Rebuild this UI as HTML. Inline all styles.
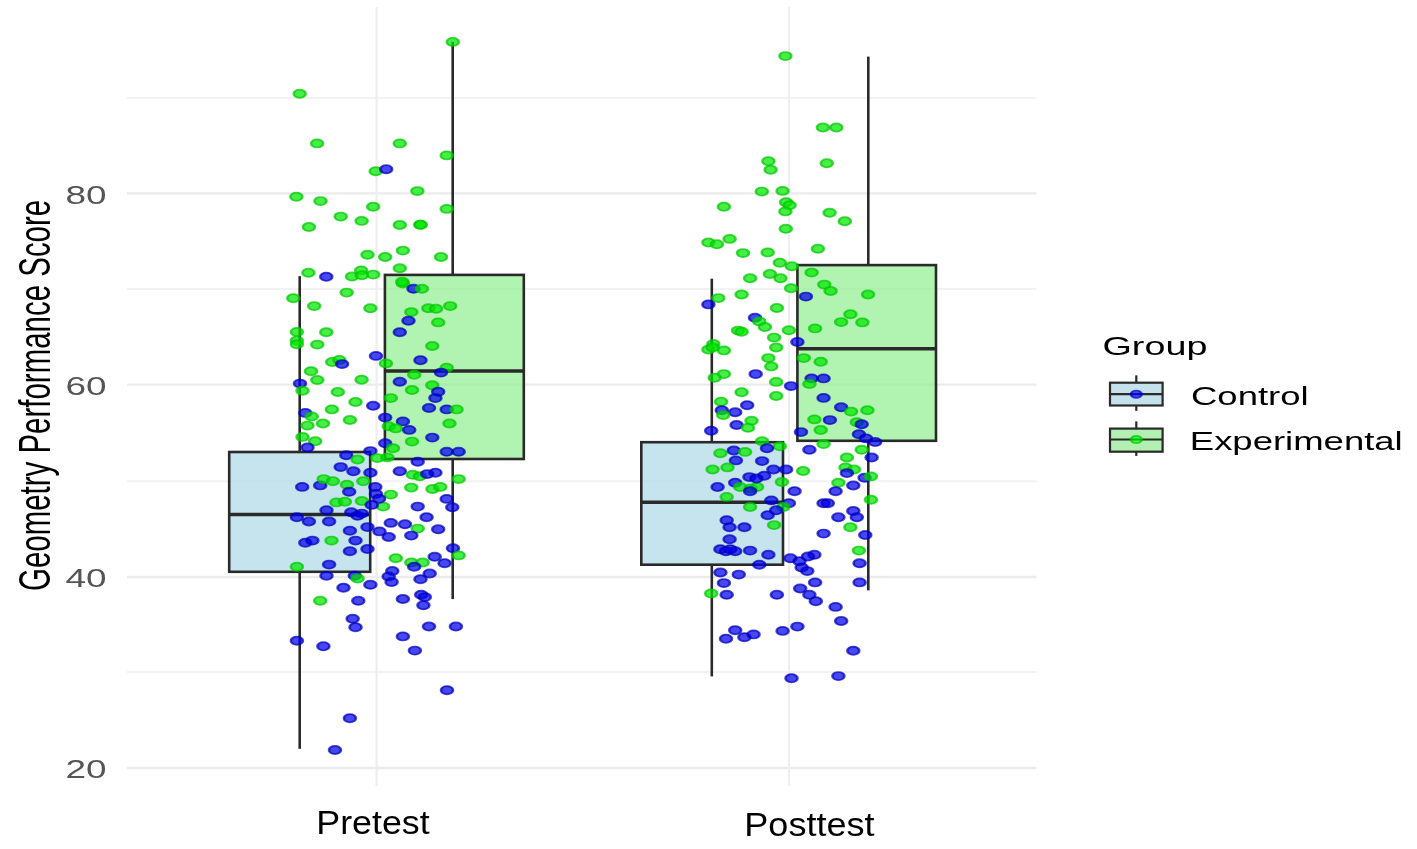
<!DOCTYPE html>
<html><head><meta charset="utf-8"><style>
html,body{margin:0;padding:0;background:#fff;width:1417px;height:849px;overflow:hidden}
svg text{font-family:"Liberation Sans",sans-serif}
</style></head><body>
<svg width="1417" height="849" viewBox="0 0 1417 849" style="display:block;filter:blur(0.55px)"><rect width="100%" height="100%" fill="#fff"/><line x1="127" x2="1036.5" y1="97.9" y2="97.9" stroke="#f2f2f2" stroke-width="2"/><line x1="127" x2="1036.5" y1="288.9" y2="288.9" stroke="#f2f2f2" stroke-width="2"/><line x1="127" x2="1036.5" y1="481.2" y2="481.2" stroke="#f2f2f2" stroke-width="2"/><line x1="127" x2="1036.5" y1="672.0" y2="672.0" stroke="#f2f2f2" stroke-width="2"/><line x1="127" x2="1036.5" y1="193.4" y2="193.4" stroke="#ebebeb" stroke-width="2.4"/><line x1="127" x2="1036.5" y1="384.6" y2="384.6" stroke="#ebebeb" stroke-width="2.4"/><line x1="127" x2="1036.5" y1="577.0" y2="577.0" stroke="#ebebeb" stroke-width="2.4"/><line x1="127" x2="1036.5" y1="768.0" y2="768.0" stroke="#ebebeb" stroke-width="2.4"/><line x1="376.6" x2="376.6" y1="7" y2="786" stroke="#eeeeee" stroke-width="2.2"/><line x1="789.0" x2="789.0" y1="7" y2="786" stroke="#eeeeee" stroke-width="2.2"/><line x1="299.7" x2="299.7" y1="276.1" y2="452.0" stroke="#2a2a2a" stroke-width="2.6"/><line x1="299.7" x2="299.7" y1="571.8" y2="748.8" stroke="#2a2a2a" stroke-width="2.6"/><rect x="229.2" y="452.0" width="141.0" height="119.8" fill="#ADD8E6" fill-opacity="0.7" stroke="#2a2a2a" stroke-width="2.6"/><line x1="229.2" x2="370.2" y1="514.5" y2="514.5" stroke="#2a2a2a" stroke-width="3.6"/><line x1="452.7" x2="452.7" y1="41.8" y2="274.9" stroke="#2a2a2a" stroke-width="2.6"/><line x1="452.7" x2="452.7" y1="459.0" y2="599.1" stroke="#2a2a2a" stroke-width="2.6"/><rect x="384.9" y="274.9" width="138.9" height="184.1" fill="#90EE90" fill-opacity="0.7" stroke="#2a2a2a" stroke-width="2.6"/><line x1="384.9" x2="523.8" y1="371.0" y2="371.0" stroke="#2a2a2a" stroke-width="3.6"/><line x1="711.8" x2="711.8" y1="278.7" y2="442.2" stroke="#2a2a2a" stroke-width="2.6"/><line x1="711.8" x2="711.8" y1="564.7" y2="676.4" stroke="#2a2a2a" stroke-width="2.6"/><rect x="641.3" y="442.2" width="141.7" height="122.5" fill="#ADD8E6" fill-opacity="0.7" stroke="#2a2a2a" stroke-width="2.6"/><line x1="641.3" x2="783.0" y1="502.2" y2="502.2" stroke="#2a2a2a" stroke-width="3.6"/><line x1="868.3" x2="868.3" y1="56.6" y2="265.1" stroke="#2a2a2a" stroke-width="2.6"/><line x1="868.3" x2="868.3" y1="440.8" y2="590.4" stroke="#2a2a2a" stroke-width="2.6"/><rect x="797.4" y="265.1" width="138.6" height="175.7" fill="#90EE90" fill-opacity="0.7" stroke="#2a2a2a" stroke-width="2.6"/><line x1="797.4" x2="936.0" y1="348.8" y2="348.8" stroke="#2a2a2a" stroke-width="3.6"/><g transform="scale(1.47 1)"><circle cx="203.88" cy="93.8" r="4.1" fill="#00e800" fill-opacity="0.72" stroke="#00c800" stroke-opacity="0.72" stroke-width="1.7"/><circle cx="308.03" cy="41.9" r="4.1" fill="#00e800" fill-opacity="0.72" stroke="#00c800" stroke-opacity="0.72" stroke-width="1.7"/><circle cx="215.71" cy="143.4" r="4.1" fill="#00e800" fill-opacity="0.72" stroke="#00c800" stroke-opacity="0.72" stroke-width="1.7"/><circle cx="271.97" cy="143.4" r="4.1" fill="#00e800" fill-opacity="0.72" stroke="#00c800" stroke-opacity="0.72" stroke-width="1.7"/><circle cx="303.88" cy="155.4" r="4.1" fill="#00e800" fill-opacity="0.72" stroke="#00c800" stroke-opacity="0.72" stroke-width="1.7"/><circle cx="255.58" cy="171.3" r="4.1" fill="#00e800" fill-opacity="0.72" stroke="#00c800" stroke-opacity="0.72" stroke-width="1.7"/><circle cx="262.72" cy="169.3" r="4.1" fill="#0000f0" fill-opacity="0.72" stroke="#0000b8" stroke-opacity="0.72" stroke-width="1.7"/><circle cx="283.95" cy="191.1" r="4.1" fill="#00e800" fill-opacity="0.72" stroke="#00c800" stroke-opacity="0.72" stroke-width="1.7"/><circle cx="201.63" cy="196.7" r="4.1" fill="#00e800" fill-opacity="0.72" stroke="#00c800" stroke-opacity="0.72" stroke-width="1.7"/><circle cx="218.03" cy="201.1" r="4.1" fill="#00e800" fill-opacity="0.72" stroke="#00c800" stroke-opacity="0.72" stroke-width="1.7"/><circle cx="253.88" cy="206.7" r="4.1" fill="#00e800" fill-opacity="0.72" stroke="#00c800" stroke-opacity="0.72" stroke-width="1.7"/><circle cx="303.88" cy="208.9" r="4.1" fill="#00e800" fill-opacity="0.72" stroke="#00c800" stroke-opacity="0.72" stroke-width="1.7"/><circle cx="231.77" cy="216.6" r="4.1" fill="#00e800" fill-opacity="0.72" stroke="#00c800" stroke-opacity="0.72" stroke-width="1.7"/><circle cx="245.99" cy="220.9" r="4.1" fill="#00e800" fill-opacity="0.72" stroke="#00c800" stroke-opacity="0.72" stroke-width="1.7"/><circle cx="271.97" cy="225.0" r="4.1" fill="#00e800" fill-opacity="0.72" stroke="#00c800" stroke-opacity="0.72" stroke-width="1.7"/><circle cx="286.05" cy="224.7" r="4.1" fill="#00e800" fill-opacity="0.72" stroke="#00c800" stroke-opacity="0.72" stroke-width="1.7"/><circle cx="286.05" cy="224.7" r="4.1" fill="#00e800" fill-opacity="0.72" stroke="#00c800" stroke-opacity="0.72" stroke-width="1.7"/><circle cx="210.14" cy="227.0" r="4.1" fill="#00e800" fill-opacity="0.72" stroke="#00c800" stroke-opacity="0.72" stroke-width="1.7"/><circle cx="250.00" cy="254.8" r="4.1" fill="#00e800" fill-opacity="0.72" stroke="#00c800" stroke-opacity="0.72" stroke-width="1.7"/><circle cx="262.04" cy="257.0" r="4.1" fill="#00e800" fill-opacity="0.72" stroke="#00c800" stroke-opacity="0.72" stroke-width="1.7"/><circle cx="274.08" cy="250.6" r="4.1" fill="#00e800" fill-opacity="0.72" stroke="#00c800" stroke-opacity="0.72" stroke-width="1.7"/><circle cx="300.00" cy="257.0" r="4.1" fill="#00e800" fill-opacity="0.72" stroke="#00c800" stroke-opacity="0.72" stroke-width="1.7"/><circle cx="209.80" cy="272.8" r="4.1" fill="#00e800" fill-opacity="0.72" stroke="#00c800" stroke-opacity="0.72" stroke-width="1.7"/><circle cx="221.97" cy="276.7" r="4.1" fill="#0000f0" fill-opacity="0.72" stroke="#0000b8" stroke-opacity="0.72" stroke-width="1.7"/><circle cx="239.46" cy="276.5" r="4.1" fill="#00e800" fill-opacity="0.72" stroke="#00c800" stroke-opacity="0.72" stroke-width="1.7"/><circle cx="245.71" cy="270.4" r="4.1" fill="#00e800" fill-opacity="0.72" stroke="#00c800" stroke-opacity="0.72" stroke-width="1.7"/><circle cx="246.19" cy="275.3" r="4.1" fill="#00e800" fill-opacity="0.72" stroke="#00c800" stroke-opacity="0.72" stroke-width="1.7"/><circle cx="253.88" cy="274.6" r="4.1" fill="#00e800" fill-opacity="0.72" stroke="#00c800" stroke-opacity="0.72" stroke-width="1.7"/><circle cx="271.97" cy="268.3" r="4.1" fill="#00e800" fill-opacity="0.72" stroke="#00c800" stroke-opacity="0.72" stroke-width="1.7"/><circle cx="274.08" cy="283.5" r="4.1" fill="#00e800" fill-opacity="0.72" stroke="#00c800" stroke-opacity="0.72" stroke-width="1.7"/><circle cx="273.61" cy="281.7" r="4.1" fill="#00e800" fill-opacity="0.72" stroke="#00c800" stroke-opacity="0.72" stroke-width="1.7"/><circle cx="281.29" cy="288.8" r="4.1" fill="#0000f0" fill-opacity="0.72" stroke="#0000b8" stroke-opacity="0.72" stroke-width="1.7"/><circle cx="287.01" cy="288.8" r="4.1" fill="#00e800" fill-opacity="0.72" stroke="#00c800" stroke-opacity="0.72" stroke-width="1.7"/><circle cx="235.85" cy="292.6" r="4.1" fill="#00e800" fill-opacity="0.72" stroke="#00c800" stroke-opacity="0.72" stroke-width="1.7"/><circle cx="199.52" cy="298.2" r="4.1" fill="#00e800" fill-opacity="0.72" stroke="#00c800" stroke-opacity="0.72" stroke-width="1.7"/><circle cx="213.74" cy="306.1" r="4.1" fill="#00e800" fill-opacity="0.72" stroke="#00c800" stroke-opacity="0.72" stroke-width="1.7"/><circle cx="251.97" cy="308.3" r="4.1" fill="#00e800" fill-opacity="0.72" stroke="#00c800" stroke-opacity="0.72" stroke-width="1.7"/><circle cx="279.80" cy="312.1" r="4.1" fill="#00e800" fill-opacity="0.72" stroke="#00c800" stroke-opacity="0.72" stroke-width="1.7"/><circle cx="291.36" cy="308.3" r="4.1" fill="#00e800" fill-opacity="0.72" stroke="#00c800" stroke-opacity="0.72" stroke-width="1.7"/><circle cx="296.67" cy="308.8" r="4.1" fill="#00e800" fill-opacity="0.72" stroke="#00c800" stroke-opacity="0.72" stroke-width="1.7"/><circle cx="306.26" cy="306.1" r="4.1" fill="#00e800" fill-opacity="0.72" stroke="#00c800" stroke-opacity="0.72" stroke-width="1.7"/><circle cx="277.89" cy="320.8" r="4.1" fill="#0000f0" fill-opacity="0.72" stroke="#0000b8" stroke-opacity="0.72" stroke-width="1.7"/><circle cx="298.10" cy="322.4" r="4.1" fill="#00e800" fill-opacity="0.72" stroke="#00c800" stroke-opacity="0.72" stroke-width="1.7"/><circle cx="271.97" cy="332.2" r="4.1" fill="#0000f0" fill-opacity="0.72" stroke="#0000b8" stroke-opacity="0.72" stroke-width="1.7"/><circle cx="201.97" cy="331.9" r="4.1" fill="#00e800" fill-opacity="0.72" stroke="#00c800" stroke-opacity="0.72" stroke-width="1.7"/><circle cx="221.97" cy="332.2" r="4.1" fill="#00e800" fill-opacity="0.72" stroke="#00c800" stroke-opacity="0.72" stroke-width="1.7"/><circle cx="201.97" cy="340.6" r="4.1" fill="#00e800" fill-opacity="0.72" stroke="#00c800" stroke-opacity="0.72" stroke-width="1.7"/><circle cx="201.97" cy="344.3" r="4.1" fill="#00e800" fill-opacity="0.72" stroke="#00c800" stroke-opacity="0.72" stroke-width="1.7"/><circle cx="215.85" cy="344.6" r="4.1" fill="#00e800" fill-opacity="0.72" stroke="#00c800" stroke-opacity="0.72" stroke-width="1.7"/><circle cx="294.08" cy="346.0" r="4.1" fill="#00e800" fill-opacity="0.72" stroke="#00c800" stroke-opacity="0.72" stroke-width="1.7"/><circle cx="255.78" cy="355.9" r="4.1" fill="#0000f0" fill-opacity="0.72" stroke="#0000b8" stroke-opacity="0.72" stroke-width="1.7"/><circle cx="225.99" cy="362.0" r="4.1" fill="#00e800" fill-opacity="0.72" stroke="#00c800" stroke-opacity="0.72" stroke-width="1.7"/><circle cx="230.82" cy="359.9" r="4.1" fill="#00e800" fill-opacity="0.72" stroke="#00c800" stroke-opacity="0.72" stroke-width="1.7"/><circle cx="232.72" cy="364.1" r="4.1" fill="#0000f0" fill-opacity="0.72" stroke="#0000b8" stroke-opacity="0.72" stroke-width="1.7"/><circle cx="262.52" cy="363.4" r="4.1" fill="#00e800" fill-opacity="0.72" stroke="#00c800" stroke-opacity="0.72" stroke-width="1.7"/><circle cx="286.05" cy="360.2" r="4.1" fill="#0000f0" fill-opacity="0.72" stroke="#0000b8" stroke-opacity="0.72" stroke-width="1.7"/><circle cx="303.88" cy="367.7" r="4.1" fill="#00e800" fill-opacity="0.72" stroke="#00c800" stroke-opacity="0.72" stroke-width="1.7"/><circle cx="300.00" cy="372.6" r="4.1" fill="#0000f0" fill-opacity="0.72" stroke="#0000b8" stroke-opacity="0.72" stroke-width="1.7"/><circle cx="281.77" cy="374.7" r="4.1" fill="#00e800" fill-opacity="0.72" stroke="#00c800" stroke-opacity="0.72" stroke-width="1.7"/><circle cx="211.56" cy="371.2" r="4.1" fill="#00e800" fill-opacity="0.72" stroke="#00c800" stroke-opacity="0.72" stroke-width="1.7"/><circle cx="215.85" cy="380.0" r="4.1" fill="#00e800" fill-opacity="0.72" stroke="#00c800" stroke-opacity="0.72" stroke-width="1.7"/><circle cx="245.99" cy="379.7" r="4.1" fill="#00e800" fill-opacity="0.72" stroke="#00c800" stroke-opacity="0.72" stroke-width="1.7"/><circle cx="204.08" cy="383.6" r="4.1" fill="#0000f0" fill-opacity="0.72" stroke="#0000b8" stroke-opacity="0.72" stroke-width="1.7"/><circle cx="271.97" cy="381.8" r="4.1" fill="#0000f0" fill-opacity="0.72" stroke="#0000b8" stroke-opacity="0.72" stroke-width="1.7"/><circle cx="205.78" cy="390.7" r="4.1" fill="#00e800" fill-opacity="0.72" stroke="#00c800" stroke-opacity="0.72" stroke-width="1.7"/><circle cx="229.80" cy="392.0" r="4.1" fill="#00e800" fill-opacity="0.72" stroke="#00c800" stroke-opacity="0.72" stroke-width="1.7"/><circle cx="294.08" cy="385.3" r="4.1" fill="#00e800" fill-opacity="0.72" stroke="#00c800" stroke-opacity="0.72" stroke-width="1.7"/><circle cx="280.27" cy="390.0" r="4.1" fill="#00e800" fill-opacity="0.72" stroke="#00c800" stroke-opacity="0.72" stroke-width="1.7"/><circle cx="298.10" cy="391.7" r="4.1" fill="#0000f0" fill-opacity="0.72" stroke="#0000b8" stroke-opacity="0.72" stroke-width="1.7"/><circle cx="296.19" cy="398.1" r="4.1" fill="#0000f0" fill-opacity="0.72" stroke="#0000b8" stroke-opacity="0.72" stroke-width="1.7"/><circle cx="265.85" cy="398.1" r="4.1" fill="#00e800" fill-opacity="0.72" stroke="#00c800" stroke-opacity="0.72" stroke-width="1.7"/><circle cx="241.84" cy="402.0" r="4.1" fill="#00e800" fill-opacity="0.72" stroke="#00c800" stroke-opacity="0.72" stroke-width="1.7"/><circle cx="253.88" cy="405.8" r="4.1" fill="#0000f0" fill-opacity="0.72" stroke="#0000b8" stroke-opacity="0.72" stroke-width="1.7"/><circle cx="291.84" cy="408.0" r="4.1" fill="#0000f0" fill-opacity="0.72" stroke="#0000b8" stroke-opacity="0.72" stroke-width="1.7"/><circle cx="303.88" cy="409.4" r="4.1" fill="#0000f0" fill-opacity="0.72" stroke="#0000b8" stroke-opacity="0.72" stroke-width="1.7"/><circle cx="310.61" cy="409.4" r="4.1" fill="#00e800" fill-opacity="0.72" stroke="#00c800" stroke-opacity="0.72" stroke-width="1.7"/><circle cx="225.78" cy="409.4" r="4.1" fill="#00e800" fill-opacity="0.72" stroke="#00c800" stroke-opacity="0.72" stroke-width="1.7"/><circle cx="207.69" cy="412.9" r="4.1" fill="#0000f0" fill-opacity="0.72" stroke="#0000b8" stroke-opacity="0.72" stroke-width="1.7"/><circle cx="212.04" cy="416.4" r="4.1" fill="#00e800" fill-opacity="0.72" stroke="#00c800" stroke-opacity="0.72" stroke-width="1.7"/><circle cx="262.04" cy="417.6" r="4.1" fill="#0000f0" fill-opacity="0.72" stroke="#0000b8" stroke-opacity="0.72" stroke-width="1.7"/><circle cx="238.03" cy="420.0" r="4.1" fill="#00e800" fill-opacity="0.72" stroke="#00c800" stroke-opacity="0.72" stroke-width="1.7"/><circle cx="219.73" cy="423.5" r="4.1" fill="#00e800" fill-opacity="0.72" stroke="#00c800" stroke-opacity="0.72" stroke-width="1.7"/><circle cx="209.18" cy="425.6" r="4.1" fill="#00e800" fill-opacity="0.72" stroke="#00c800" stroke-opacity="0.72" stroke-width="1.7"/><circle cx="274.08" cy="421.4" r="4.1" fill="#0000f0" fill-opacity="0.72" stroke="#0000b8" stroke-opacity="0.72" stroke-width="1.7"/><circle cx="264.42" cy="426.3" r="4.1" fill="#00e800" fill-opacity="0.72" stroke="#00c800" stroke-opacity="0.72" stroke-width="1.7"/><circle cx="269.25" cy="428.4" r="4.1" fill="#00e800" fill-opacity="0.72" stroke="#00c800" stroke-opacity="0.72" stroke-width="1.7"/><circle cx="278.37" cy="429.9" r="4.1" fill="#0000f0" fill-opacity="0.72" stroke="#0000b8" stroke-opacity="0.72" stroke-width="1.7"/><circle cx="305.78" cy="423.5" r="4.1" fill="#00e800" fill-opacity="0.72" stroke="#00c800" stroke-opacity="0.72" stroke-width="1.7"/><circle cx="294.08" cy="437.6" r="4.1" fill="#0000f0" fill-opacity="0.72" stroke="#0000b8" stroke-opacity="0.72" stroke-width="1.7"/><circle cx="205.78" cy="436.9" r="4.1" fill="#00e800" fill-opacity="0.72" stroke="#00c800" stroke-opacity="0.72" stroke-width="1.7"/><circle cx="214.42" cy="441.2" r="4.1" fill="#00e800" fill-opacity="0.72" stroke="#00c800" stroke-opacity="0.72" stroke-width="1.7"/><circle cx="280.27" cy="441.6" r="4.1" fill="#00e800" fill-opacity="0.72" stroke="#00c800" stroke-opacity="0.72" stroke-width="1.7"/><circle cx="262.04" cy="443.3" r="4.1" fill="#0000f0" fill-opacity="0.72" stroke="#0000b8" stroke-opacity="0.72" stroke-width="1.7"/><circle cx="209.18" cy="447.5" r="4.1" fill="#0000f0" fill-opacity="0.72" stroke="#0000b8" stroke-opacity="0.72" stroke-width="1.7"/><circle cx="251.97" cy="451.1" r="4.1" fill="#0000f0" fill-opacity="0.72" stroke="#0000b8" stroke-opacity="0.72" stroke-width="1.7"/><circle cx="267.35" cy="448.2" r="4.1" fill="#00e800" fill-opacity="0.72" stroke="#00c800" stroke-opacity="0.72" stroke-width="1.7"/><circle cx="303.88" cy="451.8" r="4.1" fill="#0000f0" fill-opacity="0.72" stroke="#0000b8" stroke-opacity="0.72" stroke-width="1.7"/><circle cx="312.04" cy="451.8" r="4.1" fill="#0000f0" fill-opacity="0.72" stroke="#0000b8" stroke-opacity="0.72" stroke-width="1.7"/><circle cx="235.58" cy="455.3" r="4.1" fill="#0000f0" fill-opacity="0.72" stroke="#0000b8" stroke-opacity="0.72" stroke-width="1.7"/><circle cx="243.27" cy="459.5" r="4.1" fill="#00e800" fill-opacity="0.72" stroke="#00c800" stroke-opacity="0.72" stroke-width="1.7"/><circle cx="256.73" cy="458.1" r="4.1" fill="#00e800" fill-opacity="0.72" stroke="#00c800" stroke-opacity="0.72" stroke-width="1.7"/><circle cx="263.47" cy="457.4" r="4.1" fill="#00e800" fill-opacity="0.72" stroke="#00c800" stroke-opacity="0.72" stroke-width="1.7"/><circle cx="284.15" cy="461.7" r="4.1" fill="#0000f0" fill-opacity="0.72" stroke="#0000b8" stroke-opacity="0.72" stroke-width="1.7"/><circle cx="231.77" cy="467.1" r="4.1" fill="#0000f0" fill-opacity="0.72" stroke="#0000b8" stroke-opacity="0.72" stroke-width="1.7"/><circle cx="240.41" cy="471.3" r="4.1" fill="#0000f0" fill-opacity="0.72" stroke="#0000b8" stroke-opacity="0.72" stroke-width="1.7"/><circle cx="251.97" cy="472.7" r="4.1" fill="#0000f0" fill-opacity="0.72" stroke="#0000b8" stroke-opacity="0.72" stroke-width="1.7"/><circle cx="271.97" cy="471.3" r="4.1" fill="#0000f0" fill-opacity="0.72" stroke="#0000b8" stroke-opacity="0.72" stroke-width="1.7"/><circle cx="280.82" cy="474.8" r="4.1" fill="#00e800" fill-opacity="0.72" stroke="#00c800" stroke-opacity="0.72" stroke-width="1.7"/><circle cx="285.58" cy="476.3" r="4.1" fill="#00e800" fill-opacity="0.72" stroke="#00c800" stroke-opacity="0.72" stroke-width="1.7"/><circle cx="296.19" cy="472.7" r="4.1" fill="#0000f0" fill-opacity="0.72" stroke="#0000b8" stroke-opacity="0.72" stroke-width="1.7"/><circle cx="312.04" cy="479.1" r="4.1" fill="#00e800" fill-opacity="0.72" stroke="#00c800" stroke-opacity="0.72" stroke-width="1.7"/><circle cx="205.58" cy="486.9" r="4.1" fill="#0000f0" fill-opacity="0.72" stroke="#0000b8" stroke-opacity="0.72" stroke-width="1.7"/><circle cx="217.82" cy="485.4" r="4.1" fill="#0000f0" fill-opacity="0.72" stroke="#0000b8" stroke-opacity="0.72" stroke-width="1.7"/><circle cx="220.20" cy="479.1" r="4.1" fill="#00e800" fill-opacity="0.72" stroke="#00c800" stroke-opacity="0.72" stroke-width="1.7"/><circle cx="226.46" cy="481.2" r="4.1" fill="#00e800" fill-opacity="0.72" stroke="#00c800" stroke-opacity="0.72" stroke-width="1.7"/><circle cx="236.05" cy="484.7" r="4.1" fill="#00e800" fill-opacity="0.72" stroke="#00c800" stroke-opacity="0.72" stroke-width="1.7"/><circle cx="247.14" cy="481.2" r="4.1" fill="#00e800" fill-opacity="0.72" stroke="#00c800" stroke-opacity="0.72" stroke-width="1.7"/><circle cx="237.55" cy="491.8" r="4.1" fill="#0000f0" fill-opacity="0.72" stroke="#0000b8" stroke-opacity="0.72" stroke-width="1.7"/><circle cx="255.31" cy="486.9" r="4.1" fill="#0000f0" fill-opacity="0.72" stroke="#0000b8" stroke-opacity="0.72" stroke-width="1.7"/><circle cx="255.78" cy="493.9" r="4.1" fill="#0000f0" fill-opacity="0.72" stroke="#0000b8" stroke-opacity="0.72" stroke-width="1.7"/><circle cx="265.85" cy="494.6" r="4.1" fill="#00e800" fill-opacity="0.72" stroke="#00c800" stroke-opacity="0.72" stroke-width="1.7"/><circle cx="279.80" cy="487.6" r="4.1" fill="#00e800" fill-opacity="0.72" stroke="#00c800" stroke-opacity="0.72" stroke-width="1.7"/><circle cx="294.22" cy="489.0" r="4.1" fill="#00e800" fill-opacity="0.72" stroke="#00c800" stroke-opacity="0.72" stroke-width="1.7"/><circle cx="299.52" cy="486.9" r="4.1" fill="#00e800" fill-opacity="0.72" stroke="#00c800" stroke-opacity="0.72" stroke-width="1.7"/><circle cx="303.88" cy="498.9" r="4.1" fill="#0000f0" fill-opacity="0.72" stroke="#0000b8" stroke-opacity="0.72" stroke-width="1.7"/><circle cx="307.69" cy="507.3" r="4.1" fill="#0000f0" fill-opacity="0.72" stroke="#0000b8" stroke-opacity="0.72" stroke-width="1.7"/><circle cx="284.15" cy="506.6" r="4.1" fill="#0000f0" fill-opacity="0.72" stroke="#0000b8" stroke-opacity="0.72" stroke-width="1.7"/><circle cx="228.84" cy="502.4" r="4.1" fill="#00e800" fill-opacity="0.72" stroke="#00c800" stroke-opacity="0.72" stroke-width="1.7"/><circle cx="234.63" cy="501.7" r="4.1" fill="#00e800" fill-opacity="0.72" stroke="#00c800" stroke-opacity="0.72" stroke-width="1.7"/><circle cx="246.19" cy="501.0" r="4.1" fill="#00e800" fill-opacity="0.72" stroke="#00c800" stroke-opacity="0.72" stroke-width="1.7"/><circle cx="260.61" cy="506.6" r="4.1" fill="#00e800" fill-opacity="0.72" stroke="#00c800" stroke-opacity="0.72" stroke-width="1.7"/><circle cx="222.11" cy="510.2" r="4.1" fill="#0000f0" fill-opacity="0.72" stroke="#0000b8" stroke-opacity="0.72" stroke-width="1.7"/><circle cx="238.98" cy="512.3" r="4.1" fill="#0000f0" fill-opacity="0.72" stroke="#0000b8" stroke-opacity="0.72" stroke-width="1.7"/><circle cx="243.27" cy="515.8" r="4.1" fill="#0000f0" fill-opacity="0.72" stroke="#0000b8" stroke-opacity="0.72" stroke-width="1.7"/><circle cx="201.97" cy="517.2" r="4.1" fill="#0000f0" fill-opacity="0.72" stroke="#0000b8" stroke-opacity="0.72" stroke-width="1.7"/><circle cx="210.14" cy="521.5" r="4.1" fill="#0000f0" fill-opacity="0.72" stroke="#0000b8" stroke-opacity="0.72" stroke-width="1.7"/><circle cx="223.88" cy="521.5" r="4.1" fill="#0000f0" fill-opacity="0.72" stroke="#0000b8" stroke-opacity="0.72" stroke-width="1.7"/><circle cx="290.20" cy="517.2" r="4.1" fill="#0000f0" fill-opacity="0.72" stroke="#0000b8" stroke-opacity="0.72" stroke-width="1.7"/><circle cx="265.85" cy="522.9" r="4.1" fill="#0000f0" fill-opacity="0.72" stroke="#0000b8" stroke-opacity="0.72" stroke-width="1.7"/><circle cx="275.51" cy="524.3" r="4.1" fill="#0000f0" fill-opacity="0.72" stroke="#0000b8" stroke-opacity="0.72" stroke-width="1.7"/><circle cx="284.15" cy="528.6" r="4.1" fill="#00e800" fill-opacity="0.72" stroke="#00c800" stroke-opacity="0.72" stroke-width="1.7"/><circle cx="298.10" cy="529.3" r="4.1" fill="#0000f0" fill-opacity="0.72" stroke="#0000b8" stroke-opacity="0.72" stroke-width="1.7"/><circle cx="250.00" cy="527.1" r="4.1" fill="#0000f0" fill-opacity="0.72" stroke="#0000b8" stroke-opacity="0.72" stroke-width="1.7"/><circle cx="238.03" cy="530.7" r="4.1" fill="#0000f0" fill-opacity="0.72" stroke="#0000b8" stroke-opacity="0.72" stroke-width="1.7"/><circle cx="258.16" cy="531.4" r="4.1" fill="#0000f0" fill-opacity="0.72" stroke="#0000b8" stroke-opacity="0.72" stroke-width="1.7"/><circle cx="264.42" cy="537.0" r="4.1" fill="#0000f0" fill-opacity="0.72" stroke="#0000b8" stroke-opacity="0.72" stroke-width="1.7"/><circle cx="279.80" cy="535.6" r="4.1" fill="#0000f0" fill-opacity="0.72" stroke="#0000b8" stroke-opacity="0.72" stroke-width="1.7"/><circle cx="207.69" cy="542.7" r="4.1" fill="#0000f0" fill-opacity="0.72" stroke="#0000b8" stroke-opacity="0.72" stroke-width="1.7"/><circle cx="212.52" cy="540.6" r="4.1" fill="#0000f0" fill-opacity="0.72" stroke="#0000b8" stroke-opacity="0.72" stroke-width="1.7"/><circle cx="225.51" cy="540.6" r="4.1" fill="#00e800" fill-opacity="0.72" stroke="#00c800" stroke-opacity="0.72" stroke-width="1.7"/><circle cx="241.84" cy="540.6" r="4.1" fill="#0000f0" fill-opacity="0.72" stroke="#0000b8" stroke-opacity="0.72" stroke-width="1.7"/><circle cx="238.03" cy="551.2" r="4.1" fill="#0000f0" fill-opacity="0.72" stroke="#0000b8" stroke-opacity="0.72" stroke-width="1.7"/><circle cx="250.00" cy="549.0" r="4.1" fill="#0000f0" fill-opacity="0.72" stroke="#0000b8" stroke-opacity="0.72" stroke-width="1.7"/><circle cx="308.16" cy="548.3" r="4.1" fill="#0000f0" fill-opacity="0.72" stroke="#0000b8" stroke-opacity="0.72" stroke-width="1.7"/><circle cx="312.04" cy="555.4" r="4.1" fill="#00e800" fill-opacity="0.72" stroke="#00c800" stroke-opacity="0.72" stroke-width="1.7"/><circle cx="269.25" cy="558.2" r="4.1" fill="#00e800" fill-opacity="0.72" stroke="#00c800" stroke-opacity="0.72" stroke-width="1.7"/><circle cx="279.80" cy="562.5" r="4.1" fill="#00e800" fill-opacity="0.72" stroke="#00c800" stroke-opacity="0.72" stroke-width="1.7"/><circle cx="287.55" cy="562.5" r="4.1" fill="#00e800" fill-opacity="0.72" stroke="#00c800" stroke-opacity="0.72" stroke-width="1.7"/><circle cx="295.71" cy="556.8" r="4.1" fill="#0000f0" fill-opacity="0.72" stroke="#0000b8" stroke-opacity="0.72" stroke-width="1.7"/><circle cx="302.45" cy="563.2" r="4.1" fill="#0000f0" fill-opacity="0.72" stroke="#0000b8" stroke-opacity="0.72" stroke-width="1.7"/><circle cx="281.77" cy="566.7" r="4.1" fill="#0000f0" fill-opacity="0.72" stroke="#0000b8" stroke-opacity="0.72" stroke-width="1.7"/><circle cx="201.97" cy="566.7" r="4.1" fill="#00e800" fill-opacity="0.72" stroke="#00c800" stroke-opacity="0.72" stroke-width="1.7"/><circle cx="223.88" cy="564.6" r="4.1" fill="#0000f0" fill-opacity="0.72" stroke="#0000b8" stroke-opacity="0.72" stroke-width="1.7"/><circle cx="266.87" cy="571.0" r="4.1" fill="#0000f0" fill-opacity="0.72" stroke="#0000b8" stroke-opacity="0.72" stroke-width="1.7"/><circle cx="222.11" cy="575.7" r="4.1" fill="#0000f0" fill-opacity="0.72" stroke="#0000b8" stroke-opacity="0.72" stroke-width="1.7"/><circle cx="241.36" cy="575.7" r="4.1" fill="#0000f0" fill-opacity="0.72" stroke="#0000b8" stroke-opacity="0.72" stroke-width="1.7"/><circle cx="243.27" cy="578.5" r="4.1" fill="#00e800" fill-opacity="0.72" stroke="#00c800" stroke-opacity="0.72" stroke-width="1.7"/><circle cx="264.42" cy="576.4" r="4.1" fill="#0000f0" fill-opacity="0.72" stroke="#0000b8" stroke-opacity="0.72" stroke-width="1.7"/><circle cx="266.39" cy="582.0" r="4.1" fill="#0000f0" fill-opacity="0.72" stroke="#0000b8" stroke-opacity="0.72" stroke-width="1.7"/><circle cx="292.31" cy="573.5" r="4.1" fill="#0000f0" fill-opacity="0.72" stroke="#0000b8" stroke-opacity="0.72" stroke-width="1.7"/><circle cx="286.05" cy="579.2" r="4.1" fill="#0000f0" fill-opacity="0.72" stroke="#0000b8" stroke-opacity="0.72" stroke-width="1.7"/><circle cx="233.67" cy="587.7" r="4.1" fill="#0000f0" fill-opacity="0.72" stroke="#0000b8" stroke-opacity="0.72" stroke-width="1.7"/><circle cx="251.97" cy="584.8" r="4.1" fill="#0000f0" fill-opacity="0.72" stroke="#0000b8" stroke-opacity="0.72" stroke-width="1.7"/><circle cx="217.82" cy="600.8" r="4.1" fill="#00e800" fill-opacity="0.72" stroke="#00c800" stroke-opacity="0.72" stroke-width="1.7"/><circle cx="243.74" cy="600.8" r="4.1" fill="#0000f0" fill-opacity="0.72" stroke="#0000b8" stroke-opacity="0.72" stroke-width="1.7"/><circle cx="274.08" cy="599.0" r="4.1" fill="#0000f0" fill-opacity="0.72" stroke="#0000b8" stroke-opacity="0.72" stroke-width="1.7"/><circle cx="286.53" cy="594.7" r="4.1" fill="#0000f0" fill-opacity="0.72" stroke="#0000b8" stroke-opacity="0.72" stroke-width="1.7"/><circle cx="288.98" cy="597.1" r="4.1" fill="#0000f0" fill-opacity="0.72" stroke="#0000b8" stroke-opacity="0.72" stroke-width="1.7"/><circle cx="288.03" cy="605.3" r="4.1" fill="#0000f0" fill-opacity="0.72" stroke="#0000b8" stroke-opacity="0.72" stroke-width="1.7"/><circle cx="239.93" cy="618.8" r="4.1" fill="#0000f0" fill-opacity="0.72" stroke="#0000b8" stroke-opacity="0.72" stroke-width="1.7"/><circle cx="241.84" cy="627.2" r="4.1" fill="#0000f0" fill-opacity="0.72" stroke="#0000b8" stroke-opacity="0.72" stroke-width="1.7"/><circle cx="291.84" cy="626.5" r="4.1" fill="#0000f0" fill-opacity="0.72" stroke="#0000b8" stroke-opacity="0.72" stroke-width="1.7"/><circle cx="310.14" cy="626.5" r="4.1" fill="#0000f0" fill-opacity="0.72" stroke="#0000b8" stroke-opacity="0.72" stroke-width="1.7"/><circle cx="201.97" cy="640.7" r="4.1" fill="#0000f0" fill-opacity="0.72" stroke="#0000b8" stroke-opacity="0.72" stroke-width="1.7"/><circle cx="220.00" cy="646.3" r="4.1" fill="#0000f0" fill-opacity="0.72" stroke="#0000b8" stroke-opacity="0.72" stroke-width="1.7"/><circle cx="274.08" cy="636.4" r="4.1" fill="#0000f0" fill-opacity="0.72" stroke="#0000b8" stroke-opacity="0.72" stroke-width="1.7"/><circle cx="282.24" cy="650.6" r="4.1" fill="#0000f0" fill-opacity="0.72" stroke="#0000b8" stroke-opacity="0.72" stroke-width="1.7"/><circle cx="304.08" cy="690.2" r="4.1" fill="#0000f0" fill-opacity="0.72" stroke="#0000b8" stroke-opacity="0.72" stroke-width="1.7"/><circle cx="238.03" cy="718.2" r="4.1" fill="#0000f0" fill-opacity="0.72" stroke="#0000b8" stroke-opacity="0.72" stroke-width="1.7"/><circle cx="227.89" cy="750.0" r="4.1" fill="#0000f0" fill-opacity="0.72" stroke="#0000b8" stroke-opacity="0.72" stroke-width="1.7"/><circle cx="534.29" cy="56.1" r="4.1" fill="#00e800" fill-opacity="0.72" stroke="#00c800" stroke-opacity="0.72" stroke-width="1.7"/><circle cx="559.80" cy="127.5" r="4.1" fill="#00e800" fill-opacity="0.72" stroke="#00c800" stroke-opacity="0.72" stroke-width="1.7"/><circle cx="568.91" cy="127.5" r="4.1" fill="#00e800" fill-opacity="0.72" stroke="#00c800" stroke-opacity="0.72" stroke-width="1.7"/><circle cx="522.72" cy="161.2" r="4.1" fill="#00e800" fill-opacity="0.72" stroke="#00c800" stroke-opacity="0.72" stroke-width="1.7"/><circle cx="524.22" cy="169.7" r="4.1" fill="#00e800" fill-opacity="0.72" stroke="#00c800" stroke-opacity="0.72" stroke-width="1.7"/><circle cx="562.45" cy="163.3" r="4.1" fill="#00e800" fill-opacity="0.72" stroke="#00c800" stroke-opacity="0.72" stroke-width="1.7"/><circle cx="518.23" cy="191.6" r="4.1" fill="#00e800" fill-opacity="0.72" stroke="#00c800" stroke-opacity="0.72" stroke-width="1.7"/><circle cx="532.38" cy="190.9" r="4.1" fill="#00e800" fill-opacity="0.72" stroke="#00c800" stroke-opacity="0.72" stroke-width="1.7"/><circle cx="534.76" cy="202.2" r="4.1" fill="#00e800" fill-opacity="0.72" stroke="#00c800" stroke-opacity="0.72" stroke-width="1.7"/><circle cx="537.14" cy="205.3" r="4.1" fill="#00e800" fill-opacity="0.72" stroke="#00c800" stroke-opacity="0.72" stroke-width="1.7"/><circle cx="534.29" cy="211.4" r="4.1" fill="#00e800" fill-opacity="0.72" stroke="#00c800" stroke-opacity="0.72" stroke-width="1.7"/><circle cx="492.45" cy="206.7" r="4.1" fill="#00e800" fill-opacity="0.72" stroke="#00c800" stroke-opacity="0.72" stroke-width="1.7"/><circle cx="564.35" cy="212.8" r="4.1" fill="#00e800" fill-opacity="0.72" stroke="#00c800" stroke-opacity="0.72" stroke-width="1.7"/><circle cx="574.69" cy="221.3" r="4.1" fill="#00e800" fill-opacity="0.72" stroke="#00c800" stroke-opacity="0.72" stroke-width="1.7"/><circle cx="534.56" cy="228.8" r="4.1" fill="#00e800" fill-opacity="0.72" stroke="#00c800" stroke-opacity="0.72" stroke-width="1.7"/><circle cx="481.90" cy="242.5" r="4.1" fill="#00e800" fill-opacity="0.72" stroke="#00c800" stroke-opacity="0.72" stroke-width="1.7"/><circle cx="487.69" cy="244.3" r="4.1" fill="#00e800" fill-opacity="0.72" stroke="#00c800" stroke-opacity="0.72" stroke-width="1.7"/><circle cx="496.33" cy="238.9" r="4.1" fill="#00e800" fill-opacity="0.72" stroke="#00c800" stroke-opacity="0.72" stroke-width="1.7"/><circle cx="505.44" cy="253.1" r="4.1" fill="#00e800" fill-opacity="0.72" stroke="#00c800" stroke-opacity="0.72" stroke-width="1.7"/><circle cx="522.24" cy="252.4" r="4.1" fill="#00e800" fill-opacity="0.72" stroke="#00c800" stroke-opacity="0.72" stroke-width="1.7"/><circle cx="556.39" cy="248.8" r="4.1" fill="#00e800" fill-opacity="0.72" stroke="#00c800" stroke-opacity="0.72" stroke-width="1.7"/><circle cx="530.48" cy="262.7" r="4.1" fill="#00e800" fill-opacity="0.72" stroke="#00c800" stroke-opacity="0.72" stroke-width="1.7"/><circle cx="538.64" cy="266.3" r="4.1" fill="#00e800" fill-opacity="0.72" stroke="#00c800" stroke-opacity="0.72" stroke-width="1.7"/><circle cx="552.11" cy="272.6" r="4.1" fill="#00e800" fill-opacity="0.72" stroke="#00c800" stroke-opacity="0.72" stroke-width="1.7"/><circle cx="510.27" cy="278.3" r="4.1" fill="#00e800" fill-opacity="0.72" stroke="#00c800" stroke-opacity="0.72" stroke-width="1.7"/><circle cx="523.74" cy="274.0" r="4.1" fill="#00e800" fill-opacity="0.72" stroke="#00c800" stroke-opacity="0.72" stroke-width="1.7"/><circle cx="530.95" cy="278.3" r="4.1" fill="#00e800" fill-opacity="0.72" stroke="#00c800" stroke-opacity="0.72" stroke-width="1.7"/><circle cx="560.75" cy="284.6" r="4.1" fill="#00e800" fill-opacity="0.72" stroke="#00c800" stroke-opacity="0.72" stroke-width="1.7"/><circle cx="565.03" cy="291.0" r="4.1" fill="#00e800" fill-opacity="0.72" stroke="#00c800" stroke-opacity="0.72" stroke-width="1.7"/><circle cx="538.16" cy="288.2" r="4.1" fill="#00e800" fill-opacity="0.72" stroke="#00c800" stroke-opacity="0.72" stroke-width="1.7"/><circle cx="504.49" cy="294.5" r="4.1" fill="#00e800" fill-opacity="0.72" stroke="#00c800" stroke-opacity="0.72" stroke-width="1.7"/><circle cx="488.64" cy="298.1" r="4.1" fill="#00e800" fill-opacity="0.72" stroke="#00c800" stroke-opacity="0.72" stroke-width="1.7"/><circle cx="481.90" cy="304.4" r="4.1" fill="#0000f0" fill-opacity="0.72" stroke="#0000b8" stroke-opacity="0.72" stroke-width="1.7"/><circle cx="548.23" cy="296.6" r="4.1" fill="#0000f0" fill-opacity="0.72" stroke="#0000b8" stroke-opacity="0.72" stroke-width="1.7"/><circle cx="590.54" cy="294.5" r="4.1" fill="#00e800" fill-opacity="0.72" stroke="#00c800" stroke-opacity="0.72" stroke-width="1.7"/><circle cx="528.50" cy="308.0" r="4.1" fill="#00e800" fill-opacity="0.72" stroke="#00c800" stroke-opacity="0.72" stroke-width="1.7"/><circle cx="513.61" cy="317.8" r="4.1" fill="#0000f0" fill-opacity="0.72" stroke="#0000b8" stroke-opacity="0.72" stroke-width="1.7"/><circle cx="516.53" cy="321.4" r="4.1" fill="#00e800" fill-opacity="0.72" stroke="#00c800" stroke-opacity="0.72" stroke-width="1.7"/><circle cx="520.34" cy="327.0" r="4.1" fill="#00e800" fill-opacity="0.72" stroke="#00c800" stroke-opacity="0.72" stroke-width="1.7"/><circle cx="578.50" cy="314.3" r="4.1" fill="#00e800" fill-opacity="0.72" stroke="#00c800" stroke-opacity="0.72" stroke-width="1.7"/><circle cx="572.24" cy="322.1" r="4.1" fill="#00e800" fill-opacity="0.72" stroke="#00c800" stroke-opacity="0.72" stroke-width="1.7"/><circle cx="586.67" cy="322.4" r="4.1" fill="#00e800" fill-opacity="0.72" stroke="#00c800" stroke-opacity="0.72" stroke-width="1.7"/><circle cx="502.11" cy="330.6" r="4.1" fill="#00e800" fill-opacity="0.72" stroke="#00c800" stroke-opacity="0.72" stroke-width="1.7"/><circle cx="536.67" cy="330.3" r="4.1" fill="#00e800" fill-opacity="0.72" stroke="#00c800" stroke-opacity="0.72" stroke-width="1.7"/><circle cx="554.49" cy="328.4" r="4.1" fill="#00e800" fill-opacity="0.72" stroke="#00c800" stroke-opacity="0.72" stroke-width="1.7"/><circle cx="526.60" cy="337.6" r="4.1" fill="#00e800" fill-opacity="0.72" stroke="#00c800" stroke-opacity="0.72" stroke-width="1.7"/><circle cx="528.03" cy="347.5" r="4.1" fill="#00e800" fill-opacity="0.72" stroke="#00c800" stroke-opacity="0.72" stroke-width="1.7"/><circle cx="542.45" cy="341.9" r="4.1" fill="#0000f0" fill-opacity="0.72" stroke="#0000b8" stroke-opacity="0.72" stroke-width="1.7"/><circle cx="485.24" cy="344.0" r="4.1" fill="#00e800" fill-opacity="0.72" stroke="#00c800" stroke-opacity="0.72" stroke-width="1.7"/><circle cx="481.90" cy="349.6" r="4.1" fill="#00e800" fill-opacity="0.72" stroke="#00c800" stroke-opacity="0.72" stroke-width="1.7"/><circle cx="492.45" cy="350.4" r="4.1" fill="#00e800" fill-opacity="0.72" stroke="#00c800" stroke-opacity="0.72" stroke-width="1.7"/><circle cx="522.72" cy="358.1" r="4.1" fill="#00e800" fill-opacity="0.72" stroke="#00c800" stroke-opacity="0.72" stroke-width="1.7"/><circle cx="546.80" cy="358.1" r="4.1" fill="#00e800" fill-opacity="0.72" stroke="#00c800" stroke-opacity="0.72" stroke-width="1.7"/><circle cx="558.30" cy="361.7" r="4.1" fill="#00e800" fill-opacity="0.72" stroke="#00c800" stroke-opacity="0.72" stroke-width="1.7"/><circle cx="524.69" cy="366.4" r="4.1" fill="#00e800" fill-opacity="0.72" stroke="#00c800" stroke-opacity="0.72" stroke-width="1.7"/><circle cx="492.45" cy="374.1" r="4.1" fill="#00e800" fill-opacity="0.72" stroke="#00c800" stroke-opacity="0.72" stroke-width="1.7"/><circle cx="486.19" cy="377.7" r="4.1" fill="#00e800" fill-opacity="0.72" stroke="#00c800" stroke-opacity="0.72" stroke-width="1.7"/><circle cx="514.08" cy="374.1" r="4.1" fill="#0000f0" fill-opacity="0.72" stroke="#0000b8" stroke-opacity="0.72" stroke-width="1.7"/><circle cx="528.03" cy="381.9" r="4.1" fill="#00e800" fill-opacity="0.72" stroke="#00c800" stroke-opacity="0.72" stroke-width="1.7"/><circle cx="538.16" cy="386.1" r="4.1" fill="#0000f0" fill-opacity="0.72" stroke="#0000b8" stroke-opacity="0.72" stroke-width="1.7"/><circle cx="552.11" cy="378.4" r="4.1" fill="#0000f0" fill-opacity="0.72" stroke="#0000b8" stroke-opacity="0.72" stroke-width="1.7"/><circle cx="560.27" cy="378.4" r="4.1" fill="#0000f0" fill-opacity="0.72" stroke="#0000b8" stroke-opacity="0.72" stroke-width="1.7"/><circle cx="550.61" cy="384.0" r="4.1" fill="#00e800" fill-opacity="0.72" stroke="#00c800" stroke-opacity="0.72" stroke-width="1.7"/><circle cx="504.49" cy="392.2" r="4.1" fill="#00e800" fill-opacity="0.72" stroke="#00c800" stroke-opacity="0.72" stroke-width="1.7"/><circle cx="528.03" cy="396.0" r="4.1" fill="#00e800" fill-opacity="0.72" stroke="#00c800" stroke-opacity="0.72" stroke-width="1.7"/><circle cx="560.27" cy="397.9" r="4.1" fill="#0000f0" fill-opacity="0.72" stroke="#0000b8" stroke-opacity="0.72" stroke-width="1.7"/><circle cx="490.54" cy="401.7" r="4.1" fill="#00e800" fill-opacity="0.72" stroke="#00c800" stroke-opacity="0.72" stroke-width="1.7"/><circle cx="508.30" cy="405.2" r="4.1" fill="#0000f0" fill-opacity="0.72" stroke="#0000b8" stroke-opacity="0.72" stroke-width="1.7"/><circle cx="491.02" cy="410.2" r="4.1" fill="#0000f0" fill-opacity="0.72" stroke="#0000b8" stroke-opacity="0.72" stroke-width="1.7"/><circle cx="500.14" cy="412.3" r="4.1" fill="#0000f0" fill-opacity="0.72" stroke="#0000b8" stroke-opacity="0.72" stroke-width="1.7"/><circle cx="491.97" cy="415.1" r="4.1" fill="#00e800" fill-opacity="0.72" stroke="#00c800" stroke-opacity="0.72" stroke-width="1.7"/><circle cx="572.24" cy="407.3" r="4.1" fill="#0000f0" fill-opacity="0.72" stroke="#0000b8" stroke-opacity="0.72" stroke-width="1.7"/><circle cx="578.98" cy="411.6" r="4.1" fill="#00e800" fill-opacity="0.72" stroke="#00c800" stroke-opacity="0.72" stroke-width="1.7"/><circle cx="590.07" cy="410.2" r="4.1" fill="#00e800" fill-opacity="0.72" stroke="#00c800" stroke-opacity="0.72" stroke-width="1.7"/><circle cx="554.01" cy="419.4" r="4.1" fill="#00e800" fill-opacity="0.72" stroke="#00c800" stroke-opacity="0.72" stroke-width="1.7"/><circle cx="564.56" cy="420.1" r="4.1" fill="#0000f0" fill-opacity="0.72" stroke="#0000b8" stroke-opacity="0.72" stroke-width="1.7"/><circle cx="582.86" cy="422.2" r="4.1" fill="#00e800" fill-opacity="0.72" stroke="#00c800" stroke-opacity="0.72" stroke-width="1.7"/><circle cx="586.19" cy="424.3" r="4.1" fill="#0000f0" fill-opacity="0.72" stroke="#0000b8" stroke-opacity="0.72" stroke-width="1.7"/><circle cx="501.09" cy="425.0" r="4.1" fill="#0000f0" fill-opacity="0.72" stroke="#0000b8" stroke-opacity="0.72" stroke-width="1.7"/><circle cx="511.22" cy="420.8" r="4.1" fill="#00e800" fill-opacity="0.72" stroke="#00c800" stroke-opacity="0.72" stroke-width="1.7"/><circle cx="508.84" cy="427.8" r="4.1" fill="#00e800" fill-opacity="0.72" stroke="#00c800" stroke-opacity="0.72" stroke-width="1.7"/><circle cx="483.81" cy="430.7" r="4.1" fill="#0000f0" fill-opacity="0.72" stroke="#0000b8" stroke-opacity="0.72" stroke-width="1.7"/><circle cx="558.30" cy="430.0" r="4.1" fill="#00e800" fill-opacity="0.72" stroke="#00c800" stroke-opacity="0.72" stroke-width="1.7"/><circle cx="544.90" cy="432.1" r="4.1" fill="#0000f0" fill-opacity="0.72" stroke="#0000b8" stroke-opacity="0.72" stroke-width="1.7"/><circle cx="584.29" cy="434.2" r="4.1" fill="#0000f0" fill-opacity="0.72" stroke="#0000b8" stroke-opacity="0.72" stroke-width="1.7"/><circle cx="589.12" cy="438.4" r="4.1" fill="#0000f0" fill-opacity="0.72" stroke="#0000b8" stroke-opacity="0.72" stroke-width="1.7"/><circle cx="595.37" cy="442.0" r="4.1" fill="#0000f0" fill-opacity="0.72" stroke="#0000b8" stroke-opacity="0.72" stroke-width="1.7"/><circle cx="518.44" cy="441.3" r="4.1" fill="#00e800" fill-opacity="0.72" stroke="#00c800" stroke-opacity="0.72" stroke-width="1.7"/><circle cx="530.48" cy="446.2" r="4.1" fill="#00e800" fill-opacity="0.72" stroke="#00c800" stroke-opacity="0.72" stroke-width="1.7"/><circle cx="521.77" cy="448.3" r="4.1" fill="#0000f0" fill-opacity="0.72" stroke="#0000b8" stroke-opacity="0.72" stroke-width="1.7"/><circle cx="560.27" cy="444.1" r="4.1" fill="#00e800" fill-opacity="0.72" stroke="#00c800" stroke-opacity="0.72" stroke-width="1.7"/><circle cx="550.61" cy="449.8" r="4.1" fill="#0000f0" fill-opacity="0.72" stroke="#0000b8" stroke-opacity="0.72" stroke-width="1.7"/><circle cx="586.19" cy="449.8" r="4.1" fill="#00e800" fill-opacity="0.72" stroke="#00c800" stroke-opacity="0.72" stroke-width="1.7"/><circle cx="592.93" cy="457.5" r="4.1" fill="#0000f0" fill-opacity="0.72" stroke="#0000b8" stroke-opacity="0.72" stroke-width="1.7"/><circle cx="490.07" cy="453.3" r="4.1" fill="#00e800" fill-opacity="0.72" stroke="#00c800" stroke-opacity="0.72" stroke-width="1.7"/><circle cx="499.18" cy="450.5" r="4.1" fill="#0000f0" fill-opacity="0.72" stroke="#0000b8" stroke-opacity="0.72" stroke-width="1.7"/><circle cx="500.61" cy="460.4" r="4.1" fill="#0000f0" fill-opacity="0.72" stroke="#0000b8" stroke-opacity="0.72" stroke-width="1.7"/><circle cx="506.87" cy="451.9" r="4.1" fill="#00e800" fill-opacity="0.72" stroke="#00c800" stroke-opacity="0.72" stroke-width="1.7"/><circle cx="576.12" cy="457.5" r="4.1" fill="#00e800" fill-opacity="0.72" stroke="#00c800" stroke-opacity="0.72" stroke-width="1.7"/><circle cx="518.44" cy="461.1" r="4.1" fill="#0000f0" fill-opacity="0.72" stroke="#0000b8" stroke-opacity="0.72" stroke-width="1.7"/><circle cx="484.76" cy="469.5" r="4.1" fill="#00e800" fill-opacity="0.72" stroke="#00c800" stroke-opacity="0.72" stroke-width="1.7"/><circle cx="494.90" cy="467.4" r="4.1" fill="#00e800" fill-opacity="0.72" stroke="#00c800" stroke-opacity="0.72" stroke-width="1.7"/><circle cx="575.17" cy="467.4" r="4.1" fill="#00e800" fill-opacity="0.72" stroke="#00c800" stroke-opacity="0.72" stroke-width="1.7"/><circle cx="580.95" cy="469.5" r="4.1" fill="#00e800" fill-opacity="0.72" stroke="#00c800" stroke-opacity="0.72" stroke-width="1.7"/><circle cx="576.12" cy="473.1" r="4.1" fill="#0000f0" fill-opacity="0.72" stroke="#0000b8" stroke-opacity="0.72" stroke-width="1.7"/><circle cx="526.12" cy="469.5" r="4.1" fill="#0000f0" fill-opacity="0.72" stroke="#0000b8" stroke-opacity="0.72" stroke-width="1.7"/><circle cx="534.76" cy="469.5" r="4.1" fill="#0000f0" fill-opacity="0.72" stroke="#0000b8" stroke-opacity="0.72" stroke-width="1.7"/><circle cx="546.33" cy="471.0" r="4.1" fill="#00e800" fill-opacity="0.72" stroke="#00c800" stroke-opacity="0.72" stroke-width="1.7"/><circle cx="509.80" cy="477.1" r="4.1" fill="#0000f0" fill-opacity="0.72" stroke="#0000b8" stroke-opacity="0.72" stroke-width="1.7"/><circle cx="519.86" cy="475.7" r="4.1" fill="#0000f0" fill-opacity="0.72" stroke="#0000b8" stroke-opacity="0.72" stroke-width="1.7"/><circle cx="588.16" cy="477.8" r="4.1" fill="#0000f0" fill-opacity="0.72" stroke="#0000b8" stroke-opacity="0.72" stroke-width="1.7"/><circle cx="592.45" cy="476.4" r="4.1" fill="#00e800" fill-opacity="0.72" stroke="#00c800" stroke-opacity="0.72" stroke-width="1.7"/><circle cx="500.14" cy="482.7" r="4.1" fill="#0000f0" fill-opacity="0.72" stroke="#0000b8" stroke-opacity="0.72" stroke-width="1.7"/><circle cx="488.16" cy="487.0" r="4.1" fill="#0000f0" fill-opacity="0.72" stroke="#0000b8" stroke-opacity="0.72" stroke-width="1.7"/><circle cx="503.54" cy="487.0" r="4.1" fill="#00e800" fill-opacity="0.72" stroke="#00c800" stroke-opacity="0.72" stroke-width="1.7"/><circle cx="510.75" cy="488.4" r="4.1" fill="#00e800" fill-opacity="0.72" stroke="#00c800" stroke-opacity="0.72" stroke-width="1.7"/><circle cx="515.03" cy="487.0" r="4.1" fill="#00e800" fill-opacity="0.72" stroke="#00c800" stroke-opacity="0.72" stroke-width="1.7"/><circle cx="510.27" cy="491.2" r="4.1" fill="#0000f0" fill-opacity="0.72" stroke="#0000b8" stroke-opacity="0.72" stroke-width="1.7"/><circle cx="531.90" cy="482.0" r="4.1" fill="#00e800" fill-opacity="0.72" stroke="#00c800" stroke-opacity="0.72" stroke-width="1.7"/><circle cx="540.54" cy="491.2" r="4.1" fill="#0000f0" fill-opacity="0.72" stroke="#0000b8" stroke-opacity="0.72" stroke-width="1.7"/><circle cx="570.34" cy="482.7" r="4.1" fill="#00e800" fill-opacity="0.72" stroke="#00c800" stroke-opacity="0.72" stroke-width="1.7"/><circle cx="580.48" cy="485.5" r="4.1" fill="#0000f0" fill-opacity="0.72" stroke="#0000b8" stroke-opacity="0.72" stroke-width="1.7"/><circle cx="568.44" cy="491.2" r="4.1" fill="#0000f0" fill-opacity="0.72" stroke="#0000b8" stroke-opacity="0.72" stroke-width="1.7"/><circle cx="494.35" cy="496.9" r="4.1" fill="#00e800" fill-opacity="0.72" stroke="#00c800" stroke-opacity="0.72" stroke-width="1.7"/><circle cx="592.45" cy="499.7" r="4.1" fill="#00e800" fill-opacity="0.72" stroke="#00c800" stroke-opacity="0.72" stroke-width="1.7"/><circle cx="560.27" cy="503.2" r="4.1" fill="#0000f0" fill-opacity="0.72" stroke="#0000b8" stroke-opacity="0.72" stroke-width="1.7"/><circle cx="524.69" cy="500.4" r="4.1" fill="#0000f0" fill-opacity="0.72" stroke="#0000b8" stroke-opacity="0.72" stroke-width="1.7"/><circle cx="536.67" cy="503.2" r="4.1" fill="#0000f0" fill-opacity="0.72" stroke="#0000b8" stroke-opacity="0.72" stroke-width="1.7"/><circle cx="532.86" cy="507.0" r="4.1" fill="#00e800" fill-opacity="0.72" stroke="#00c800" stroke-opacity="0.72" stroke-width="1.7"/><circle cx="510.27" cy="507.0" r="4.1" fill="#00e800" fill-opacity="0.72" stroke="#00c800" stroke-opacity="0.72" stroke-width="1.7"/><circle cx="522.24" cy="515.2" r="4.1" fill="#0000f0" fill-opacity="0.72" stroke="#0000b8" stroke-opacity="0.72" stroke-width="1.7"/><circle cx="580.48" cy="511.0" r="4.1" fill="#0000f0" fill-opacity="0.72" stroke="#0000b8" stroke-opacity="0.72" stroke-width="1.7"/><circle cx="582.86" cy="517.3" r="4.1" fill="#0000f0" fill-opacity="0.72" stroke="#0000b8" stroke-opacity="0.72" stroke-width="1.7"/><circle cx="570.34" cy="517.3" r="4.1" fill="#0000f0" fill-opacity="0.72" stroke="#0000b8" stroke-opacity="0.72" stroke-width="1.7"/><circle cx="494.35" cy="520.2" r="4.1" fill="#0000f0" fill-opacity="0.72" stroke="#0000b8" stroke-opacity="0.72" stroke-width="1.7"/><circle cx="496.33" cy="527.2" r="4.1" fill="#0000f0" fill-opacity="0.72" stroke="#0000b8" stroke-opacity="0.72" stroke-width="1.7"/><circle cx="506.39" cy="527.2" r="4.1" fill="#0000f0" fill-opacity="0.72" stroke="#0000b8" stroke-opacity="0.72" stroke-width="1.7"/><circle cx="526.60" cy="525.1" r="4.1" fill="#00e800" fill-opacity="0.72" stroke="#00c800" stroke-opacity="0.72" stroke-width="1.7"/><circle cx="578.50" cy="527.2" r="4.1" fill="#00e800" fill-opacity="0.72" stroke="#00c800" stroke-opacity="0.72" stroke-width="1.7"/><circle cx="560.27" cy="533.6" r="4.1" fill="#0000f0" fill-opacity="0.72" stroke="#0000b8" stroke-opacity="0.72" stroke-width="1.7"/><circle cx="588.64" cy="535.0" r="4.1" fill="#0000f0" fill-opacity="0.72" stroke="#0000b8" stroke-opacity="0.72" stroke-width="1.7"/><circle cx="496.33" cy="539.3" r="4.1" fill="#0000f0" fill-opacity="0.72" stroke="#0000b8" stroke-opacity="0.72" stroke-width="1.7"/><circle cx="490.07" cy="549.2" r="4.1" fill="#0000f0" fill-opacity="0.72" stroke="#0000b8" stroke-opacity="0.72" stroke-width="1.7"/><circle cx="493.88" cy="551.3" r="4.1" fill="#0000f0" fill-opacity="0.72" stroke="#0000b8" stroke-opacity="0.72" stroke-width="1.7"/><circle cx="500.14" cy="551.3" r="4.1" fill="#0000f0" fill-opacity="0.72" stroke="#0000b8" stroke-opacity="0.72" stroke-width="1.7"/><circle cx="510.27" cy="550.6" r="4.1" fill="#0000f0" fill-opacity="0.72" stroke="#0000b8" stroke-opacity="0.72" stroke-width="1.7"/><circle cx="522.72" cy="554.8" r="4.1" fill="#0000f0" fill-opacity="0.72" stroke="#0000b8" stroke-opacity="0.72" stroke-width="1.7"/><circle cx="584.29" cy="550.6" r="4.1" fill="#00e800" fill-opacity="0.72" stroke="#00c800" stroke-opacity="0.72" stroke-width="1.7"/><circle cx="584.76" cy="563.3" r="4.1" fill="#0000f0" fill-opacity="0.72" stroke="#0000b8" stroke-opacity="0.72" stroke-width="1.7"/><circle cx="537.69" cy="558.3" r="4.1" fill="#0000f0" fill-opacity="0.72" stroke="#0000b8" stroke-opacity="0.72" stroke-width="1.7"/><circle cx="543.88" cy="561.2" r="4.1" fill="#0000f0" fill-opacity="0.72" stroke="#0000b8" stroke-opacity="0.72" stroke-width="1.7"/><circle cx="554.01" cy="554.8" r="4.1" fill="#0000f0" fill-opacity="0.72" stroke="#0000b8" stroke-opacity="0.72" stroke-width="1.7"/><circle cx="545.37" cy="567.5" r="4.1" fill="#0000f0" fill-opacity="0.72" stroke="#0000b8" stroke-opacity="0.72" stroke-width="1.7"/><circle cx="549.18" cy="571.1" r="4.1" fill="#0000f0" fill-opacity="0.72" stroke="#0000b8" stroke-opacity="0.72" stroke-width="1.7"/><circle cx="516.53" cy="564.7" r="4.1" fill="#0000f0" fill-opacity="0.72" stroke="#0000b8" stroke-opacity="0.72" stroke-width="1.7"/><circle cx="490.07" cy="572.5" r="4.1" fill="#0000f0" fill-opacity="0.72" stroke="#0000b8" stroke-opacity="0.72" stroke-width="1.7"/><circle cx="502.59" cy="574.6" r="4.1" fill="#0000f0" fill-opacity="0.72" stroke="#0000b8" stroke-opacity="0.72" stroke-width="1.7"/><circle cx="492.45" cy="583.1" r="4.1" fill="#0000f0" fill-opacity="0.72" stroke="#0000b8" stroke-opacity="0.72" stroke-width="1.7"/><circle cx="554.49" cy="582.4" r="4.1" fill="#0000f0" fill-opacity="0.72" stroke="#0000b8" stroke-opacity="0.72" stroke-width="1.7"/><circle cx="584.76" cy="582.4" r="4.1" fill="#0000f0" fill-opacity="0.72" stroke="#0000b8" stroke-opacity="0.72" stroke-width="1.7"/><circle cx="483.81" cy="593.4" r="4.1" fill="#00e800" fill-opacity="0.72" stroke="#00c800" stroke-opacity="0.72" stroke-width="1.7"/><circle cx="494.35" cy="594.8" r="4.1" fill="#0000f0" fill-opacity="0.72" stroke="#0000b8" stroke-opacity="0.72" stroke-width="1.7"/><circle cx="528.50" cy="594.8" r="4.1" fill="#0000f0" fill-opacity="0.72" stroke="#0000b8" stroke-opacity="0.72" stroke-width="1.7"/><circle cx="544.35" cy="588.5" r="4.1" fill="#0000f0" fill-opacity="0.72" stroke="#0000b8" stroke-opacity="0.72" stroke-width="1.7"/><circle cx="550.61" cy="594.8" r="4.1" fill="#0000f0" fill-opacity="0.72" stroke="#0000b8" stroke-opacity="0.72" stroke-width="1.7"/><circle cx="554.97" cy="601.2" r="4.1" fill="#0000f0" fill-opacity="0.72" stroke="#0000b8" stroke-opacity="0.72" stroke-width="1.7"/><circle cx="568.44" cy="606.9" r="4.1" fill="#0000f0" fill-opacity="0.72" stroke="#0000b8" stroke-opacity="0.72" stroke-width="1.7"/><circle cx="572.24" cy="621.0" r="4.1" fill="#0000f0" fill-opacity="0.72" stroke="#0000b8" stroke-opacity="0.72" stroke-width="1.7"/><circle cx="500.14" cy="630.2" r="4.1" fill="#0000f0" fill-opacity="0.72" stroke="#0000b8" stroke-opacity="0.72" stroke-width="1.7"/><circle cx="493.88" cy="638.7" r="4.1" fill="#0000f0" fill-opacity="0.72" stroke="#0000b8" stroke-opacity="0.72" stroke-width="1.7"/><circle cx="506.39" cy="637.2" r="4.1" fill="#0000f0" fill-opacity="0.72" stroke="#0000b8" stroke-opacity="0.72" stroke-width="1.7"/><circle cx="512.65" cy="634.4" r="4.1" fill="#0000f0" fill-opacity="0.72" stroke="#0000b8" stroke-opacity="0.72" stroke-width="1.7"/><circle cx="532.38" cy="630.9" r="4.1" fill="#0000f0" fill-opacity="0.72" stroke="#0000b8" stroke-opacity="0.72" stroke-width="1.7"/><circle cx="542.45" cy="626.6" r="4.1" fill="#0000f0" fill-opacity="0.72" stroke="#0000b8" stroke-opacity="0.72" stroke-width="1.7"/><circle cx="580.48" cy="650.7" r="4.1" fill="#0000f0" fill-opacity="0.72" stroke="#0000b8" stroke-opacity="0.72" stroke-width="1.7"/><circle cx="538.44" cy="678.2" r="4.1" fill="#0000f0" fill-opacity="0.72" stroke="#0000b8" stroke-opacity="0.72" stroke-width="1.7"/><circle cx="570.34" cy="676.1" r="4.1" fill="#0000f0" fill-opacity="0.72" stroke="#0000b8" stroke-opacity="0.72" stroke-width="1.7"/><circle cx="252.86" cy="504.9" r="4.1" fill="#0000f0" fill-opacity="0.72" stroke="#0000b8" stroke-opacity="0.72" stroke-width="1.7"/><circle cx="257.89" cy="498.7" r="4.1" fill="#0000f0" fill-opacity="0.72" stroke="#0000b8" stroke-opacity="0.72" stroke-width="1.7"/><circle cx="246.12" cy="513.6" r="4.1" fill="#0000f0" fill-opacity="0.72" stroke="#0000b8" stroke-opacity="0.72" stroke-width="1.7"/><circle cx="504.49" cy="331.7" r="4.1" fill="#00e800" fill-opacity="0.72" stroke="#00c800" stroke-opacity="0.72" stroke-width="1.7"/><circle cx="484.76" cy="347.5" r="4.1" fill="#00e800" fill-opacity="0.72" stroke="#00c800" stroke-opacity="0.72" stroke-width="1.7"/><circle cx="514.56" cy="478.5" r="4.1" fill="#0000f0" fill-opacity="0.72" stroke="#0000b8" stroke-opacity="0.72" stroke-width="1.7"/><circle cx="563.13" cy="503.2" r="4.1" fill="#0000f0" fill-opacity="0.72" stroke="#0000b8" stroke-opacity="0.72" stroke-width="1.7"/><circle cx="528.03" cy="510.3" r="4.1" fill="#0000f0" fill-opacity="0.72" stroke="#0000b8" stroke-opacity="0.72" stroke-width="1.7"/><circle cx="496.80" cy="549.2" r="4.1" fill="#0000f0" fill-opacity="0.72" stroke="#0000b8" stroke-opacity="0.72" stroke-width="1.7"/><circle cx="549.66" cy="556.5" r="4.1" fill="#0000f0" fill-opacity="0.72" stroke="#0000b8" stroke-opacity="0.72" stroke-width="1.7"/><circle cx="290.61" cy="474.1" r="4.1" fill="#0000f0" fill-opacity="0.72" stroke="#0000b8" stroke-opacity="0.72" stroke-width="1.7"/></g><text transform="translate(106.6 203.8) scale(1.45 1)" font-size="25.5" fill="#555555" text-anchor="end" >80</text><text transform="translate(106.6 395.0) scale(1.45 1)" font-size="25.5" fill="#555555" text-anchor="end" >60</text><text transform="translate(106.6 587.4) scale(1.45 1)" font-size="25.5" fill="#555555" text-anchor="end" >40</text><text transform="translate(106.6 778.4) scale(1.45 1)" font-size="25.5" fill="#555555" text-anchor="end" >20</text><text transform="translate(50.4 591) scale(1.46 0.982) rotate(-90)" font-size="30" fill="#000">Geometry Performance Score</text><text transform="translate(373.0 834.0) scale(1.085 1)" font-size="33" fill="#000" text-anchor="middle" >Pretest</text><text transform="translate(809.4 835.7) scale(1.092 1)" font-size="33" fill="#000" text-anchor="middle" >Posttest</text><text transform="translate(1102.5 355.1) scale(1.51 1)" font-size="25" fill="#000" text-anchor="start" >Group</text><text transform="translate(1191 405.1) scale(1.46 1)" font-size="25" fill="#000" text-anchor="start" >Control</text><text transform="translate(1189.8 450.4) scale(1.46 1)" font-size="25" fill="#000" text-anchor="start" >Experimental</text><line x1="1136.3" x2="1136.3" y1="375.3" y2="410.8" stroke="#2a2a2a" stroke-width="2.2"/><rect x="1110" y="382.7" width="52.6" height="22.8" fill="#c5e2ec" stroke="#2a2a2a" stroke-width="2.2"/><line x1="1110" x2="1162.6" y1="394.2" y2="394.2" stroke="#2a2a2a" stroke-width="2.2"/><g transform="scale(1.47 1)"><circle cx="772.99" cy="394.2" r="3.6999999999999997" fill="#0000ff" fill-opacity="0.66" stroke="#0000c8" stroke-opacity="0.7" stroke-width="1.7"/></g><line x1="1136.3" x2="1136.3" y1="421.4" y2="455.9" stroke="#2a2a2a" stroke-width="2.2"/><rect x="1110" y="428.6" width="52.6" height="23.1" fill="#b1f0b1" stroke="#2a2a2a" stroke-width="2.2"/><line x1="1110" x2="1162.6" y1="439.5" y2="439.5" stroke="#2a2a2a" stroke-width="2.2"/><g transform="scale(1.47 1)"><circle cx="772.99" cy="439.5" r="3.6999999999999997" fill="#00ff00" fill-opacity="0.66" stroke="#00c000" stroke-opacity="0.7" stroke-width="1.7"/></g></svg>
</body></html>
